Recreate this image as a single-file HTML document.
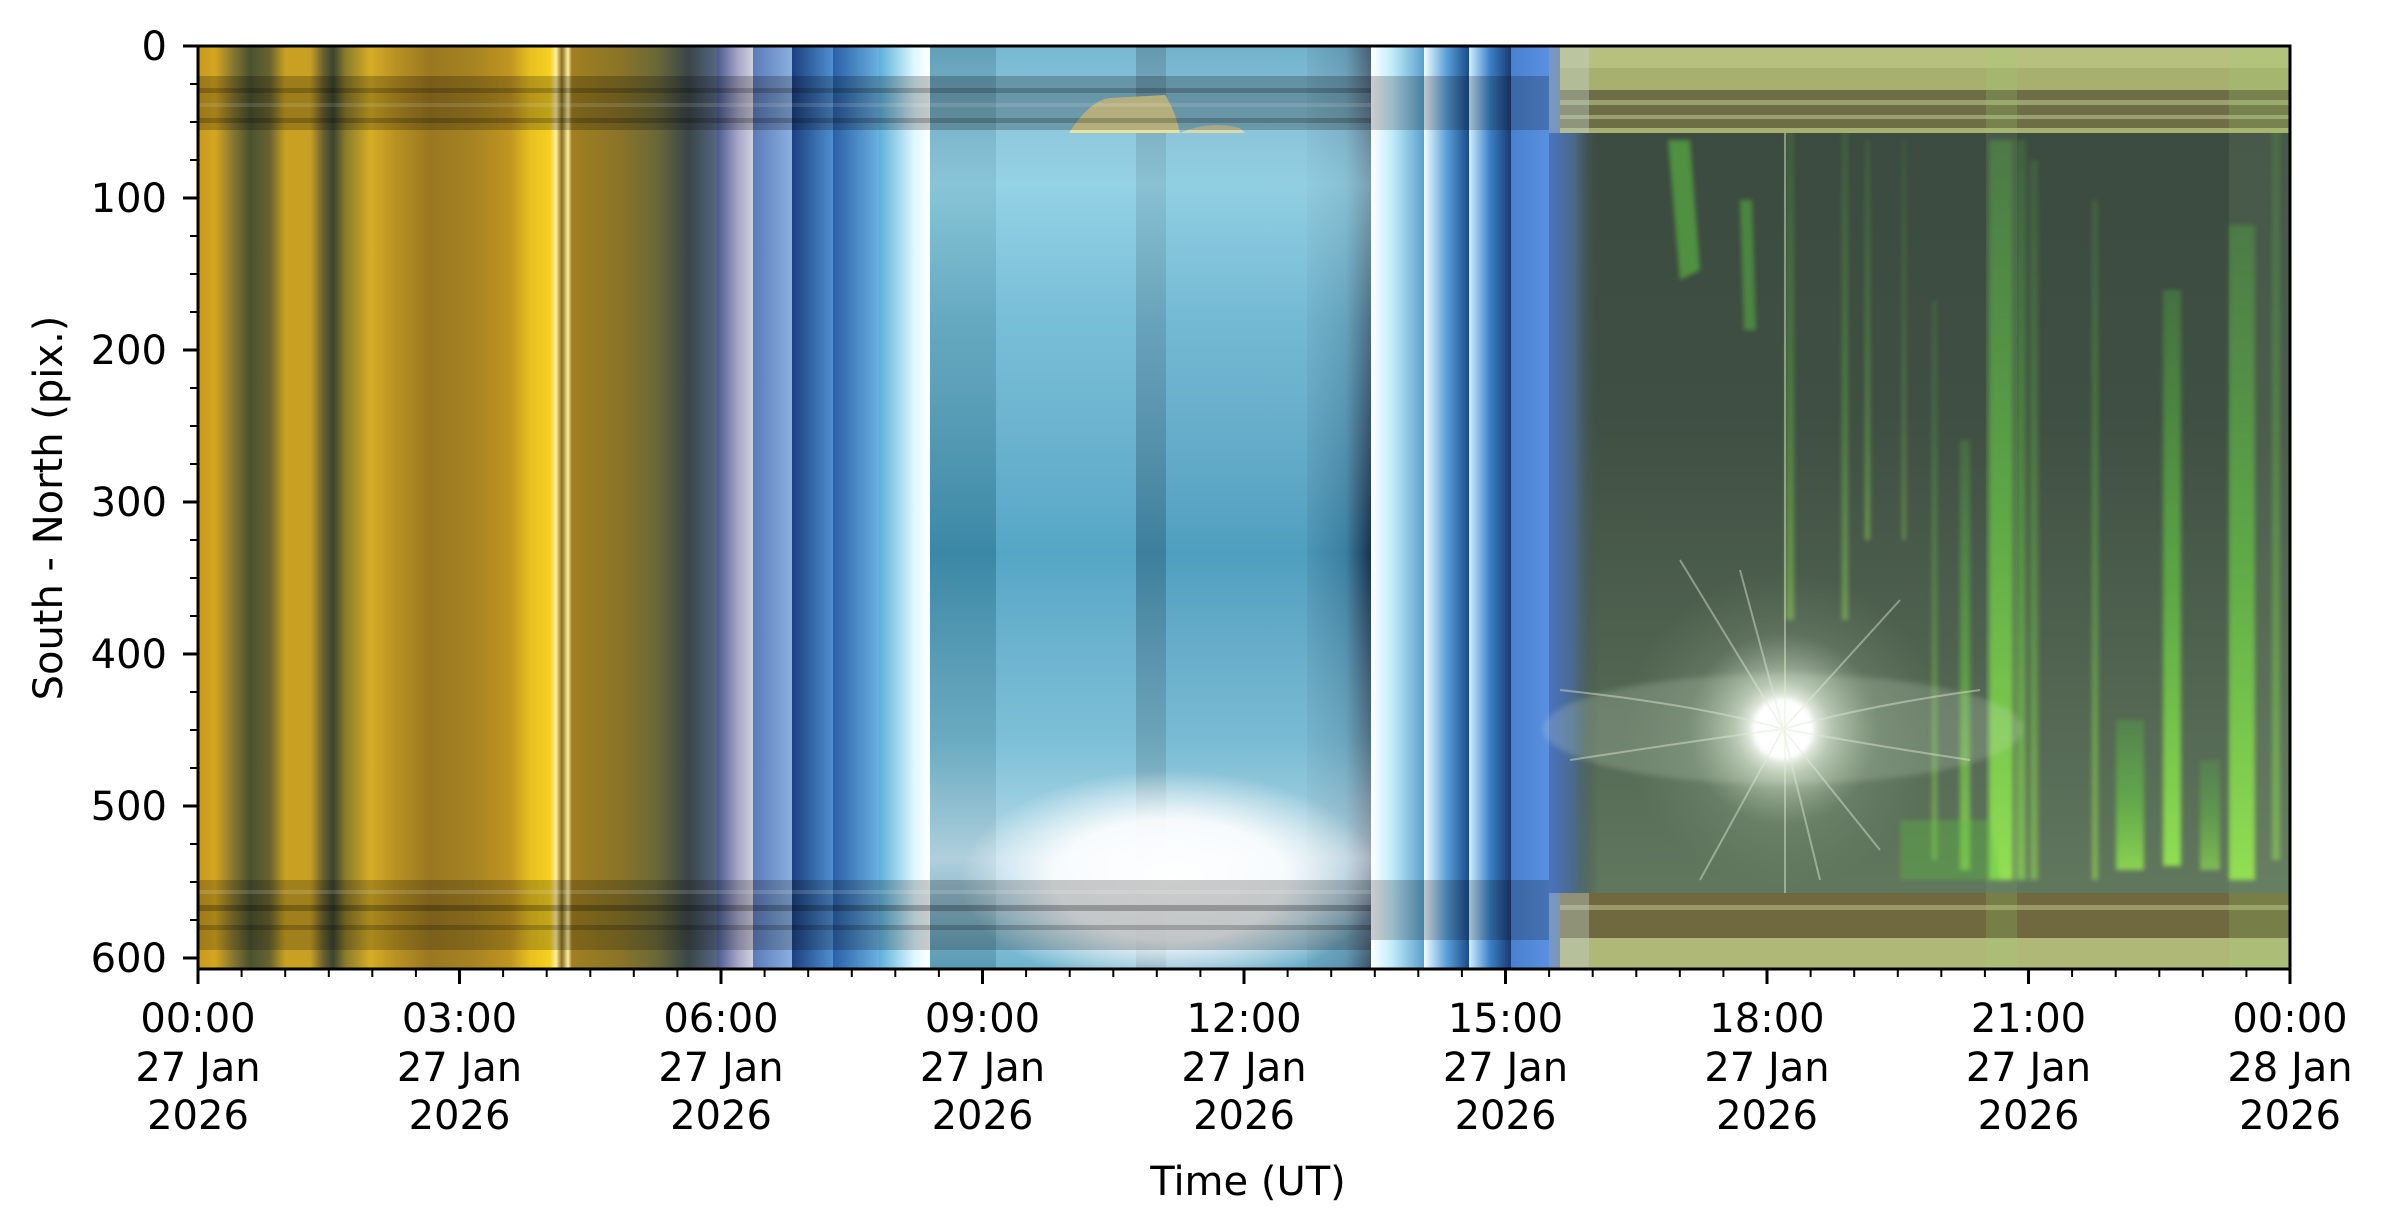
<!DOCTYPE html>
<html><head><meta charset="utf-8"><style>
html,body{margin:0;padding:0;background:#fff;}
svg{display:block;}
text{font-family:"DejaVu Sans","Liberation Sans",sans-serif;fill:#000;}
</style></head><body>
<svg width="2385" height="1227" viewBox="0 0 2385 1227" xmlns="http://www.w3.org/2000/svg">
<defs>
<linearGradient id="gold" x1="198" x2="720" y1="0" y2="0" gradientUnits="userSpaceOnUse">
<stop offset="0" stop-color="#c79a1e"/>
<stop offset="0.033" stop-color="#d4a620"/>
<stop offset="0.065" stop-color="#8a7a30"/>
<stop offset="0.1" stop-color="#4a5230"/>
<stop offset="0.138" stop-color="#6a6430"/>
<stop offset="0.167" stop-color="#c9a020"/>
<stop offset="0.215" stop-color="#c8a025"/>
<stop offset="0.24" stop-color="#6a6030"/>
<stop offset="0.259" stop-color="#3a4530"/>
<stop offset="0.282" stop-color="#8a7a2a"/>
<stop offset="0.33" stop-color="#d5ad25"/>
<stop offset="0.381" stop-color="#b89022"/>
<stop offset="0.444" stop-color="#9a7822"/>
<stop offset="0.521" stop-color="#a58222"/>
<stop offset="0.598" stop-color="#c09520"/>
<stop offset="0.636" stop-color="#e8c020"/>
<stop offset="0.674" stop-color="#f5d020"/>
<stop offset="0.686" stop-color="#fff0a0"/>
<stop offset="0.697" stop-color="#8a7020"/>
<stop offset="0.709" stop-color="#fff0a0"/>
<stop offset="0.716" stop-color="#a08020"/>
<stop offset="0.808" stop-color="#8a7428"/>
<stop offset="0.879" stop-color="#6a6838"/>
<stop offset="0.94" stop-color="#3a4548"/>
<stop offset="1" stop-color="#5a6a8a"/>
</linearGradient>
<linearGradient id="b1" x1="0" x2="1"><stop offset="0" stop-color="#4a5a90"/><stop offset="0.6" stop-color="#a8a8c8"/><stop offset="1" stop-color="#d0d0e0"/></linearGradient>
<linearGradient id="b2" x1="0" x2="1"><stop offset="0" stop-color="#5a7ab8"/><stop offset="1" stop-color="#8ab0e0"/></linearGradient>
<linearGradient id="b3" x1="0" x2="1"><stop offset="0" stop-color="#1c3f80"/><stop offset="1" stop-color="#4f8fd0"/></linearGradient>
<linearGradient id="b4" x1="0" x2="1"><stop offset="0" stop-color="#2a5fa8"/><stop offset="1" stop-color="#6ab0e0"/></linearGradient>
<linearGradient id="b5" x1="0" x2="1"><stop offset="0" stop-color="#5ab0d8"/><stop offset="0.7" stop-color="#e0f8ff"/><stop offset="1" stop-color="#ffffff"/></linearGradient>
<linearGradient id="t5" x1="0" x2="1"><stop offset="0" stop-color="#4a95b5"/><stop offset="0.6" stop-color="#3a7fa0"/><stop offset="1" stop-color="#17324f"/></linearGradient>
<linearGradient id="c1" x1="0" x2="1"><stop offset="0" stop-color="#ffffff"/><stop offset="0.4" stop-color="#c0ecfa"/><stop offset="1" stop-color="#5aa0cc"/></linearGradient>
<linearGradient id="c2" x1="0" x2="1"><stop offset="0" stop-color="#f0fbff"/><stop offset="0.5" stop-color="#5aa0d8"/><stop offset="1" stop-color="#1a4a8a"/></linearGradient>
<linearGradient id="c3" x1="0" x2="1"><stop offset="0" stop-color="#d0f0ff"/><stop offset="0.5" stop-color="#3a80c8"/><stop offset="1" stop-color="#1a3a70"/></linearGradient>
<linearGradient id="c4" x1="0" x2="1"><stop offset="0" stop-color="#4a80d0"/><stop offset="1" stop-color="#5a90e0"/></linearGradient>
<linearGradient id="c5" x1="0" x2="1"><stop offset="0" stop-color="#4a72c0"/><stop offset="0.5" stop-color="#4a6a8a"/><stop offset="1" stop-color="#42524a" stop-opacity="0"/></linearGradient>
<linearGradient id="tv" x1="0" x2="0" y1="0" y2="1">
<stop offset="0" stop-color="#ffffff" stop-opacity="0.2"/>
<stop offset="0.15" stop-color="#c8f6ff" stop-opacity="0.55"/>
<stop offset="0.3" stop-color="#c8f6ff" stop-opacity="0.3"/>
<stop offset="0.55" stop-color="#ffffff" stop-opacity="0.0"/>
<stop offset="0.75" stop-color="#d8fbff" stop-opacity="0.3"/>
<stop offset="0.88" stop-color="#ffffff" stop-opacity="0.6"/>
<stop offset="1" stop-color="#ffffff" stop-opacity="0.15"/>
</linearGradient>
<linearGradient id="gv" x1="0" x2="0" y1="0" y2="1">
<stop offset="0" stop-color="#3b4a3f"/>
<stop offset="0.4" stop-color="#3f4f43"/>
<stop offset="0.6" stop-color="#4c5e4d"/>
<stop offset="1" stop-color="#667e62"/>
</linearGradient>
<radialGradient id="glow" cx="0.5" cy="0.5" r="0.5">
<stop offset="0" stop-color="#ffffff" stop-opacity="1"/>
<stop offset="0.55" stop-color="#ffffff" stop-opacity="0.9"/>
<stop offset="1" stop-color="#ffffff" stop-opacity="0"/>
</radialGradient>
<radialGradient id="star" cx="0.5" cy="0.5" r="0.5">
<stop offset="0" stop-color="#ffffff"/>
<stop offset="0.15" stop-color="#ffffff"/>
<stop offset="0.3" stop-color="#e8f4e0" stop-opacity="0.6"/>
<stop offset="0.6" stop-color="#b8d0b0" stop-opacity="0.15"/>
<stop offset="1" stop-color="#a0b898" stop-opacity="0"/>
</radialGradient>
<linearGradient id="aur" x1="0" x2="0" y1="0" y2="1">
<stop offset="0" stop-color="#5ad040" stop-opacity="0.3"/>
<stop offset="0.5" stop-color="#66d040" stop-opacity="0.7"/>
<stop offset="1" stop-color="#9af050" stop-opacity="0.95"/>
</linearGradient>
<filter id="bl" x="-50%" y="-10%" width="200%" height="120%"><feGaussianBlur stdDeviation="2.5"/></filter>
<filter id="bl2"><feGaussianBlur stdDeviation="3"/></filter>
<clipPath id="plot"><rect x="198" y="46" width="2092" height="923"/></clipPath>
</defs>

<g clip-path="url(#plot)">
<rect x="198" y="46" width="522" height="923" fill="url(#gold)"/>
<rect x="717" y="46" width="36" height="923" fill="url(#b1)"/>
<rect x="753" y="46" width="39" height="923" fill="url(#b2)"/>
<rect x="792" y="46" width="41" height="923" fill="url(#b3)"/>
<rect x="833" y="46" width="46" height="923" fill="url(#b4)"/>
<rect x="879" y="46" width="51" height="923" fill="url(#b5)"/>
<rect x="930" y="46" width="66" height="923" fill="#3a88a6"/>
<rect x="996" y="46" width="140" height="923" fill="#55a6c6"/>
<rect x="1136" y="46" width="30" height="923" fill="#3d7f9c"/>
<rect x="1166" y="46" width="141" height="923" fill="#4f9fc0"/>
<rect x="1307" y="46" width="64" height="923" fill="url(#t5)"/>
<rect x="930" y="46" width="441" height="923" fill="url(#tv)"/>
<ellipse cx="1170" cy="880" rx="210" ry="110" fill="url(#glow)"/>
<path d="M1069 133 Q1090 100 1110 98 L1165 95 Q1175 110 1180 133 Z" fill="#e8e0a0"/>
<path d="M1180 133 Q1210 120 1240 128 L1245 133 Z" fill="#d8d8b0"/>
<rect x="1371" y="46" width="53" height="923" fill="url(#c1)"/>
<rect x="1424" y="46" width="45" height="923" fill="url(#c2)"/>
<rect x="1469" y="46" width="42" height="923" fill="url(#c3)"/>
<rect x="1511" y="46" width="38" height="923" fill="url(#c4)"/>
<!-- green region -->
<rect x="1549" y="46" width="741" height="923" fill="url(#gv)"/>
<rect x="1549" y="46" width="50" height="923" fill="url(#c5)"/>
<rect x="1986" y="46" width="31" height="923" fill="#8ab080" opacity="0.15"/>
<rect x="2229" y="46" width="61" height="923" fill="#8ab080" opacity="0.15"/>

<g filter="url(#bl)">
<rect x="1989" y="140" width="24" height="740" fill="url(#aur)" opacity="0.9"/>
<rect x="2016" y="140" width="10" height="740" fill="url(#aur)" opacity="0.6"/>
<rect x="2030" y="160" width="8" height="720" fill="url(#aur)" opacity="0.5"/>
<rect x="2163" y="290" width="18" height="576" fill="url(#aur)" opacity="0.9"/>
<rect x="2229" y="225" width="26" height="655" fill="url(#aur)" opacity="0.9"/>
<rect x="2272" y="120" width="8" height="740" fill="url(#aur)" opacity="0.5"/>
<rect x="2092" y="200" width="6" height="680" fill="url(#aur)" opacity="0.55"/>
<rect x="2116" y="720" width="28" height="150" fill="url(#aur)" opacity="0.8"/>
<rect x="2200" y="760" width="20" height="110" fill="url(#aur)" opacity="0.6"/>
<rect x="1960" y="440" width="10" height="430" fill="url(#aur)" opacity="0.7"/>
<rect x="1932" y="300" width="5" height="560" fill="url(#aur)" opacity="0.5"/>
<rect x="1786" y="120" width="8" height="500" fill="url(#aur)" opacity="0.45"/>
<rect x="1842" y="120" width="6" height="500" fill="url(#aur)" opacity="0.45"/>
<rect x="1865" y="140" width="5" height="400" fill="url(#aur)" opacity="0.45"/>
<rect x="1902" y="140" width="4" height="400" fill="url(#aur)" opacity="0.35"/>
<polygon points="1668,140 1690,140 1700,270 1680,280" fill="#5ac040" opacity="0.6"/>
<polygon points="1740,200 1752,200 1756,330 1744,330" fill="#5ac040" opacity="0.5"/>
<polygon points="1900,820 1990,820 2000,880 1900,880" fill="#5ac040" opacity="0.35"/>
</g>
<ellipse cx="1783" cy="729" rx="240" ry="55" fill="#d8e8d0" opacity="0.2" filter="url(#bl2)"/>
<circle cx="1783" cy="729" r="160" fill="url(#star)"/>
<circle cx="1783" cy="729" r="30" fill="#ffffff" filter="url(#bl2)"/>
<g stroke="#e0ecd8" stroke-width="2" opacity="0.45">
<line x1="1783" y1="729" x2="1680" y2="560"/><line x1="1783" y1="729" x2="1700" y2="880"/>
<line x1="1783" y1="729" x2="1900" y2="600"/><line x1="1783" y1="729" x2="1880" y2="850"/>
<line x1="1783" y1="729" x2="1740" y2="570"/><line x1="1783" y1="729" x2="1820" y2="880"/>
<path d="M1783 729 Q1700 705 1560 690" fill="none"/><path d="M1783 729 Q1700 740 1570 760" fill="none"/>
<path d="M1783 729 Q1870 705 1980 690" fill="none"/><path d="M1783 729 Q1870 745 1970 760" fill="none"/>
</g>
<line x1="1785" y1="46" x2="1785" y2="969" stroke="#e8f0d0" stroke-width="1.5" opacity="0.6"/>

<rect x="198" y="76" width="1173" height="54" fill="#000" opacity="0.22"/>
<rect x="198" y="88" width="1173" height="5" fill="#000" opacity="0.2"/>
<rect x="198" y="103" width="1173" height="4" fill="#fff" opacity="0.12"/>
<rect x="198" y="118" width="1173" height="5" fill="#000" opacity="0.2"/>
<rect x="198" y="880" width="1173" height="70" fill="#000" opacity="0.2"/>
<rect x="198" y="890" width="1173" height="4" fill="#fff" opacity="0.15"/>
<rect x="198" y="905" width="1173" height="6" fill="#000" opacity="0.25"/>
<rect x="198" y="925" width="1173" height="5" fill="#000" opacity="0.2"/>
<rect x="1371" y="76" width="178" height="54" fill="#000" opacity="0.2"/>
<rect x="1371" y="880" width="178" height="60" fill="#000" opacity="0.2"/>
<rect x="1560" y="46" width="730" height="87" fill="#a8b070"/>
<rect x="1560" y="46" width="730" height="22" fill="#b8c080"/>
<rect x="1560" y="90" width="730" height="38" fill="#6e6e46"/>
<rect x="1560" y="100" width="730" height="5" fill="#9aa070"/>
<rect x="1560" y="115" width="730" height="4" fill="#9aa070"/>
<rect x="1560" y="893" width="730" height="45" fill="#70693f"/>
<rect x="1560" y="905" width="730" height="5" fill="#9a9a68"/>
<rect x="1560" y="938" width="730" height="31" fill="#b0b878"/>
<rect x="1986" y="46" width="31" height="87" fill="#9ad070" opacity="0.2"/>
<rect x="2229" y="46" width="61" height="87" fill="#9ad070" opacity="0.2"/>
<rect x="1986" y="893" width="31" height="76" fill="#9ad070" opacity="0.2"/>
<rect x="2229" y="893" width="61" height="76" fill="#9ad070" opacity="0.2"/>
<rect x="1549" y="46" width="40" height="87" fill="#c0d0d0" opacity="0.4"/>
<rect x="1549" y="893" width="40" height="76" fill="#c0d0d0" opacity="0.4"/>
</g>

<rect x="198" y="46" width="2092" height="923" fill="none" stroke="#000" stroke-width="3"/>

<g stroke="#000" stroke-width="3">
<line x1="183" y1="46" x2="198" y2="46"/><line x1="183" y1="198" x2="198" y2="198"/>
<line x1="183" y1="350" x2="198" y2="350"/><line x1="183" y1="502" x2="198" y2="502"/>
<line x1="183" y1="654" x2="198" y2="654"/><line x1="183" y1="806" x2="198" y2="806"/>
<line x1="183" y1="958" x2="198" y2="958"/>
</g>
<g stroke="#000" stroke-width="2">
<line x1="190" y1="84" x2="198" y2="84"/><line x1="190" y1="122" x2="198" y2="122"/><line x1="190" y1="160" x2="198" y2="160"/>
<line x1="190" y1="236" x2="198" y2="236"/><line x1="190" y1="274" x2="198" y2="274"/><line x1="190" y1="312" x2="198" y2="312"/>
<line x1="190" y1="388" x2="198" y2="388"/><line x1="190" y1="426" x2="198" y2="426"/><line x1="190" y1="464" x2="198" y2="464"/>
<line x1="190" y1="540" x2="198" y2="540"/><line x1="190" y1="578" x2="198" y2="578"/><line x1="190" y1="616" x2="198" y2="616"/>
<line x1="190" y1="692" x2="198" y2="692"/><line x1="190" y1="730" x2="198" y2="730"/><line x1="190" y1="768" x2="198" y2="768"/>
<line x1="190" y1="844" x2="198" y2="844"/><line x1="190" y1="882" x2="198" y2="882"/><line x1="190" y1="920" x2="198" y2="920"/>
</g>
<g font-size="40" text-anchor="end">
<text x="167" y="60">0</text><text x="167" y="212">100</text><text x="167" y="364">200</text>
<text x="167" y="516">300</text><text x="167" y="668">400</text><text x="167" y="820">500</text>
<text x="167" y="972">600</text>
</g>
<text transform="translate(62,508) rotate(-90)" font-size="40" text-anchor="middle">South - North (pix.)</text>

<g stroke="#000" stroke-width="3">
<line x1="198" y1="969" x2="198" y2="984"/><line x1="459.5" y1="969" x2="459.5" y2="984"/>
<line x1="721" y1="969" x2="721" y2="984"/><line x1="982.5" y1="969" x2="982.5" y2="984"/>
<line x1="1244" y1="969" x2="1244" y2="984"/><line x1="1505.5" y1="969" x2="1505.5" y2="984"/>
<line x1="1767" y1="969" x2="1767" y2="984"/><line x1="2028.5" y1="969" x2="2028.5" y2="984"/>
<line x1="2290" y1="969" x2="2290" y2="984"/>
</g>
<g font-size="40" text-anchor="middle">
<text x="198" y="1032">00:00</text><text x="198" y="1081">27 Jan</text><text x="198" y="1129">2026</text>
<text x="459.5" y="1032">03:00</text><text x="459.5" y="1081">27 Jan</text><text x="459.5" y="1129">2026</text>
<text x="721" y="1032">06:00</text><text x="721" y="1081">27 Jan</text><text x="721" y="1129">2026</text>
<text x="982.5" y="1032">09:00</text><text x="982.5" y="1081">27 Jan</text><text x="982.5" y="1129">2026</text>
<text x="1244" y="1032">12:00</text><text x="1244" y="1081">27 Jan</text><text x="1244" y="1129">2026</text>
<text x="1505.5" y="1032">15:00</text><text x="1505.5" y="1081">27 Jan</text><text x="1505.5" y="1129">2026</text>
<text x="1767" y="1032">18:00</text><text x="1767" y="1081">27 Jan</text><text x="1767" y="1129">2026</text>
<text x="2028.5" y="1032">21:00</text><text x="2028.5" y="1081">27 Jan</text><text x="2028.5" y="1129">2026</text>
<text x="2290" y="1032">00:00</text><text x="2290" y="1081">28 Jan</text><text x="2290" y="1129">2026</text>
</g>
<text x="1248" y="1195" font-size="40" text-anchor="middle">Time (UT)</text>
<g stroke="#000" stroke-width="2">
<line x1="241.6" y1="969" x2="241.6" y2="977"/><line x1="285.2" y1="969" x2="285.2" y2="977"/><line x1="328.8" y1="969" x2="328.8" y2="977"/><line x1="372.3" y1="969" x2="372.3" y2="977"/><line x1="415.9" y1="969" x2="415.9" y2="977"/>
<line x1="503.1" y1="969" x2="503.1" y2="977"/><line x1="546.7" y1="969" x2="546.7" y2="977"/><line x1="590.3" y1="969" x2="590.3" y2="977"/><line x1="633.8" y1="969" x2="633.8" y2="977"/><line x1="677.4" y1="969" x2="677.4" y2="977"/>
<line x1="764.6" y1="969" x2="764.6" y2="977"/><line x1="808.2" y1="969" x2="808.2" y2="977"/><line x1="851.8" y1="969" x2="851.8" y2="977"/><line x1="895.3" y1="969" x2="895.3" y2="977"/><line x1="938.9" y1="969" x2="938.9" y2="977"/>
<line x1="1026.1" y1="969" x2="1026.1" y2="977"/><line x1="1069.7" y1="969" x2="1069.7" y2="977"/><line x1="1113.3" y1="969" x2="1113.3" y2="977"/><line x1="1156.8" y1="969" x2="1156.8" y2="977"/><line x1="1200.4" y1="969" x2="1200.4" y2="977"/>
<line x1="1287.6" y1="969" x2="1287.6" y2="977"/><line x1="1331.2" y1="969" x2="1331.2" y2="977"/><line x1="1374.8" y1="969" x2="1374.8" y2="977"/><line x1="1418.3" y1="969" x2="1418.3" y2="977"/><line x1="1461.9" y1="969" x2="1461.9" y2="977"/>
<line x1="1549.1" y1="969" x2="1549.1" y2="977"/><line x1="1592.7" y1="969" x2="1592.7" y2="977"/><line x1="1636.3" y1="969" x2="1636.3" y2="977"/><line x1="1679.8" y1="969" x2="1679.8" y2="977"/><line x1="1723.4" y1="969" x2="1723.4" y2="977"/>
<line x1="1810.6" y1="969" x2="1810.6" y2="977"/><line x1="1854.2" y1="969" x2="1854.2" y2="977"/><line x1="1897.8" y1="969" x2="1897.8" y2="977"/><line x1="1941.3" y1="969" x2="1941.3" y2="977"/><line x1="1984.9" y1="969" x2="1984.9" y2="977"/>
<line x1="2072.1" y1="969" x2="2072.1" y2="977"/><line x1="2115.7" y1="969" x2="2115.7" y2="977"/><line x1="2159.3" y1="969" x2="2159.3" y2="977"/><line x1="2202.8" y1="969" x2="2202.8" y2="977"/><line x1="2246.4" y1="969" x2="2246.4" y2="977"/>
</g>
</svg>
</body></html>
